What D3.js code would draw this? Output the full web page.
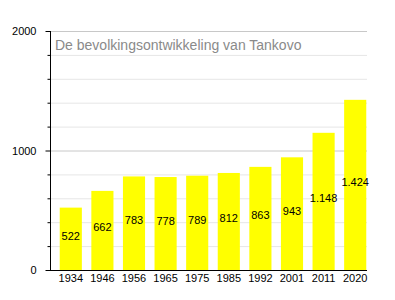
<!DOCTYPE html>
<html>
<head>
<meta charset="utf-8">
<script src="https://cdn.jsdelivr.net/npm/d3@7"></script>
<style>
body { margin: 0; background: #fff; }
text { font-family: "Liberation Sans", Arial, sans-serif; }
</style>
</head>
<body>
<div id="chart"></div>
<script>
var years = ["1934", "1946", "1956", "1965", "1975", "1985", "1992", "2001", "2011", "2020"];
var population = [522, 662, 783, 778, 789, 812, 863, 943, 1148, 1424];
var majorTicks = [0, 1000, 2000];
var minorTicks = [200, 400, 600, 800, 1200, 1400, 1600, 1800];
var title = "De bevolkingsontwikkeling van Tankovo";

var width = 395, height = 300;

var svg = d3.select("#chart").append("svg")
    .attr("width", width)
    .attr("height", height);

var x = d3.scaleBand()
    .domain(years)
    .range([55, 371])
    .paddingInner(0.3)
    .paddingOuter(0.15);

var y = d3.scaleLinear()
    .domain([0, 2000])
    .range([270, 31]);

// grid
svg.append("g").selectAll("line")
    .data(minorTicks)
    .enter().append("line")
    .attr("x1", 50).attr("x2", 367)
    .attr("y1", d => y(d) + 0.5).attr("y2", d => y(d) + 0.5)
    .attr("stroke", "#e6e6e6");

svg.append("g").selectAll("line")
    .data(majorTicks.slice(1))
    .enter().append("line")
    .attr("x1", 50).attr("x2", 367)
    .attr("y1", d => y(d) + 0.5).attr("y2", d => y(d) + 0.5)
    .attr("stroke", "#c8c8c8");

// title
svg.append("text")
    .attr("x", 55)
    .attr("y", 50)
    .attr("font-size", 14)
    .attr("fill", "#8a8a8a")
    .text(title);

// bars
svg.append("g").selectAll("rect")
    .data(population)
    .enter().append("rect")
    .attr("x", (d, i) => x(years[i]))
    .attr("width", x.bandwidth())
    .attr("y", d => y(d))
    .attr("height", d => y(0) - y(d))
    .attr("fill", "#ffff00");

var fmt = d3.formatLocale({decimal: ",", thousands: ".", grouping: [3], currency: ["€", ""]}).format(",d");

svg.append("g").selectAll("text")
    .data(population)
    .enter().append("text")
    .attr("x", (d, i) => x(years[i]) + x.bandwidth() / 2)
    .attr("y", d => (y(d) + y(0)) / 2 + 1)
    .attr("text-anchor", "middle")
    .attr("font-size", 11)
    .attr("fill", "#000")
    .text(fmt);

// axes
var yAxis = d3.axisLeft(y).tickValues(majorTicks).tickSize(5).tickPadding(9)
    .tickFormat(d3.format("d"));
var gy = svg.append("g").attr("transform", "translate(50.5,0)").call(yAxis);
gy.selectAll("text").attr("font-size", 11).attr("font-family", "Liberation Sans, Arial, sans-serif");
gy.select(".domain").attr("d", "M0," + y(2000) + "V" + y(0));

svg.append("g").attr("transform", "translate(50.5,0)").selectAll("line")
    .data(minorTicks)
    .enter().append("line")
    .attr("x1", -3).attr("x2", 0)
    .attr("y1", d => y(d) + 0.5).attr("y2", d => y(d) + 0.5)
    .attr("stroke", "#000");

svg.append("line")
    .attr("x1", 50).attr("x2", 367)
    .attr("y1", y(0) + 0.5).attr("y2", y(0) + 0.5)
    .attr("stroke", "#000");

svg.append("g").selectAll("text")
    .data(years)
    .enter().append("text")
    .attr("x", d => x(d) + x.bandwidth() / 2)
    .attr("y", 282)
    .attr("text-anchor", "middle")
    .attr("font-size", 11)
    .text(d => d);
</script>
</body>
</html>
